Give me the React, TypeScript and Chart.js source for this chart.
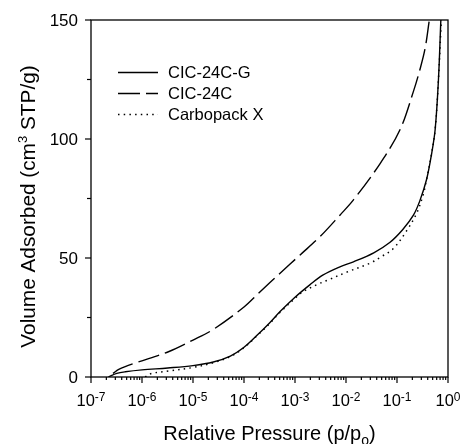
import React, { useEffect, useRef } from "react";
import { Chart, registerables } from "chart.js";

Chart.register(...registerables);

// ---- data ----
const seriesLabels = ["CIC-24C-G", "CIC-24C", "Carbopack X"];

const cic24cgPressure = [2.2e-7, 3.2e-7, 4.7e-7, 1e-6, 3.2e-6, 1e-5, 2.5e-5, 5.4e-5, 1e-4, 1.8e-4, 3.2e-4, 5.1e-4, 1e-3, 1.95e-3, 3.5e-3, 7.6e-3, 1.4e-2, 3.5e-2, 7.2e-2, 0.13, 0.21, 0.28, 0.38, 0.47, 0.56, 0.65, 0.724];
const cic24cgVolume = [0, 1.5, 2.2, 3.0, 3.8, 4.8, 6.3, 8.8, 12.5, 17.5, 22.8, 27.5, 33.5, 38.7, 42.8, 46.3, 48.4, 52.2, 56.5, 62, 68, 74, 83, 93, 104, 125, 150];

const cic24cPressure = [2.7e-7, 3.5e-7, 7.2e-7, 3.3e-6, 1e-5, 2.5e-5, 1e-4, 2e-4, 5.1e-4, 1.26e-3, 3.1e-3, 7.6e-3, 1.4e-2, 4.7e-2, 0.115, 0.21, 0.28, 0.355, 0.43];
const cic24cVolume = [1.5, 3.2, 5.8, 10.6, 15.5, 20, 29.4, 35.5, 43.6, 51.3, 59, 68, 74.4, 89.8, 104, 120, 129, 138, 150];

const carbopackPressure = [1.15e-6, 1.55e-6, 3.3e-6, 1e-5, 2.5e-5, 5.4e-5, 1e-4, 1.8e-4, 3.2e-4, 5.1e-4, 1e-3, 1.35e-3, 2.75e-3, 4.5e-3, 1.02e-2, 2.95e-2, 4.7e-2, 8.5e-2, 0.155, 0.245, 0.33, 0.38, 0.47, 0.56, 0.65, 0.74];
const carbopackVolume = [0, 1.5, 2.5, 4.0, 6.0, 8.6, 12.3, 17.3, 22.5, 27.2, 33, 35.5, 38.9, 40.8, 44, 47.8, 50.3, 54, 61.5, 69, 77, 83, 93, 104, 125, 150];

const yTickValues = [0, 25, 50, 75, 100, 125, 150];
const yTickLabels = ["0", "", "50", "", "100", "", "150"];
const xDecades = [1e-7, 1e-6, 1e-5, 1e-4, 1e-3, 1e-2, 1e-1, 1];
const xTickExponents = ["-7", "-6", "-5", "-4", "-3", "-2", "-1", "0"];
const minorMultipliers = [2, 3, 4, 5, 6, 7, 8, 9];

const xTitleMain = "Relative Pressure (p/p";
const xTitleSub = "o";
const xTitleEnd = ")";
const yTitleMain = "Volume Adsorbed (cm";
const yTitleSup = "3";
const yTitleEnd = " STP/g)";

const FONT = "'Liberation Sans', Arial, Helvetica, sans-serif";

const toPoints = (xs: number[], ys: number[]) => xs.map((x, i) => ({ x, y: ys[i] }));

const decorPlugin = {
  id: "decor",
  afterDraw(chart: any) {
    const { ctx, chartArea: a, scales } = chart;
    const xs = scales.x;
    const ys = scales.y;
    ctx.save();
    ctx.strokeStyle = "#000";
    ctx.fillStyle = "#000";
    ctx.lineWidth = 1.3;
    ctx.setLineDash([]);
    ctx.strokeRect(a.left, a.top, a.right - a.left, a.bottom - a.top);

    // y ticks
    ctx.lineWidth = 1.2;
    ctx.font = `17px ${FONT}`;
    ctx.textAlign = "right";
    ctx.textBaseline = "middle";
    yTickValues.forEach((v, i) => {
      const py = ys.getPixelForValue(v);
      const major = yTickLabels[i] !== "";
      ctx.beginPath();
      ctx.moveTo(a.left - (major ? 6 : 4), py);
      ctx.lineTo(a.left, py);
      ctx.stroke();
      if (major) ctx.fillText(yTickLabels[i], a.left - 13, py + 1);
    });

    // x ticks
    xDecades.forEach((d, i) => {
      const px = xs.getPixelForValue(d);
      ctx.beginPath();
      ctx.moveTo(px, a.bottom);
      ctx.lineTo(px, a.bottom + 6);
      ctx.stroke();
      if (i < xDecades.length - 1) {
        minorMultipliers.forEach((m) => {
          const mx = xs.getPixelForValue(d * m);
          ctx.beginPath();
          ctx.moveTo(mx, a.bottom);
          ctx.lineTo(mx, a.bottom + 3);
          ctx.stroke();
        });
      }
      ctx.textAlign = "left";
      ctx.textBaseline = "alphabetic";
      ctx.font = `16.5px ${FONT}`;
      const wBase = ctx.measureText("10").width;
      ctx.font = `12px ${FONT}`;
      const wExp = ctx.measureText(xTickExponents[i]).width;
      const left = px - (wBase + wExp) / 2;
      ctx.font = `16.5px ${FONT}`;
      ctx.fillText("10", left, a.bottom + 28.5);
      ctx.font = `12px ${FONT}`;
      ctx.fillText(xTickExponents[i], left + wBase, a.bottom + 23.5);
    });

    // x title
    ctx.font = `20px ${FONT}`;
    const w1 = ctx.measureText(xTitleMain).width;
    const w3 = ctx.measureText(xTitleEnd).width;
    ctx.font = `14px ${FONT}`;
    const w2 = ctx.measureText(xTitleSub).width;
    const cx = (a.left + a.right) / 2;
    const tx = cx - (w1 + w2 + w3) / 2;
    const tb = 440;
    ctx.font = `20px ${FONT}`;
    ctx.fillText(xTitleMain, tx, tb);
    ctx.font = `14px ${FONT}`;
    ctx.fillText(xTitleSub, tx + w1, tb + 5);
    ctx.font = `20px ${FONT}`;
    ctx.fillText(xTitleEnd, tx + w1 + w2, tb);

    // y title (rotated)
    ctx.save();
    ctx.translate(35, (a.top + a.bottom) / 2 + 8);
    ctx.rotate(-Math.PI / 2);
    ctx.font = `20.8px ${FONT}`;
    const v1 = ctx.measureText(yTitleMain).width;
    const v3 = ctx.measureText(yTitleEnd).width;
    ctx.font = `13px ${FONT}`;
    const v2 = ctx.measureText(yTitleSup).width;
    const vx = -(v1 + v2 + v3) / 2;
    ctx.font = `20.8px ${FONT}`;
    ctx.fillText(yTitleMain, vx, 0);
    ctx.font = `13px ${FONT}`;
    ctx.fillText(yTitleSup, vx + v1, -8);
    ctx.font = `20.8px ${FONT}`;
    ctx.fillText(yTitleEnd, vx + v1 + v2, 0);
    ctx.restore();

    // legend
    const rows = [72.5, 93.5, 114.5];
    chart.data.datasets.forEach((ds: any, i: number) => {
      const ry = rows[i];
      ctx.lineWidth = ds.borderWidth;
      ctx.setLineDash(ds.borderDash || []);
      ctx.beginPath();
      ctx.moveTo(118, ry);
      ctx.lineTo(158, ry);
      ctx.stroke();
      ctx.setLineDash([]);
      ctx.font = `16.5px ${FONT}`;
      ctx.textAlign = "left";
      ctx.textBaseline = "middle";
      ctx.fillText(ds.label, 168, ry + 0.5);
    });
    ctx.restore();
  },
};

export default function App() {
  const ref = useRef<HTMLCanvasElement | null>(null);
  useEffect(() => {
    if (!ref.current) return;
    const common = { borderColor: "#000", pointRadius: 0, fill: false, tension: 0.35 };
    const chart = new Chart(ref.current, {
      type: "line",
      data: {
        datasets: [
          { ...common, label: seriesLabels[0], data: toPoints(cic24cgPressure, cic24cgVolume), borderWidth: 1.4, borderDash: [] },
          { ...common, label: seriesLabels[1], data: toPoints(cic24cPressure, cic24cVolume), borderWidth: 1.4, borderDash: [22, 6] },
          { ...common, label: seriesLabels[2], data: toPoints(carbopackPressure, carbopackVolume), borderWidth: 1.5, borderDash: [1.5, 4.2] },
        ],
      },
      options: {
        responsive: false,
        animation: false,
        devicePixelRatio: 1,
        layout: { padding: { left: 91, right: 14, top: 20, bottom: 67 } },
        plugins: { legend: { display: false }, tooltip: { enabled: false } },
        scales: {
          x: { type: "logarithmic", min: 1e-7, max: 1, display: false },
          y: { type: "linear", min: 0, max: 150, display: false },
        },
      },
      plugins: [decorPlugin],
    } as any);
    return () => chart.destroy();
  }, []);
  return (
    <div style={{ position: "absolute", left: 0, top: 0, width: 462, height: 444, background: "#fff" }}>
      <canvas ref={ref} width={462} height={444} />
    </div>
  );
}
